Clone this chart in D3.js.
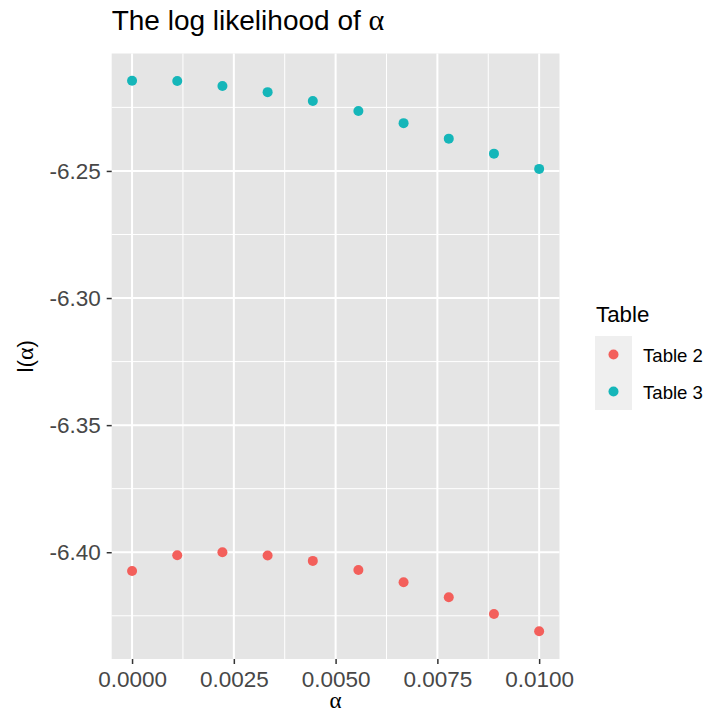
<!DOCTYPE html>
<html>
<head>
<meta charset="utf-8">
<script src="https://cdn.jsdelivr.net/npm/d3@7"></script>
<style>
body { margin: 0; background: #fff; }
text { font-family: "Liberation Sans", Arial, Helvetica, sans-serif; }
.greek { font-family: "Liberation Serif", "DejaVu Serif", serif; }
</style>
</head>
<body>
<div class="container"></div>
<script>
var WIDTH = 709,
	HEIGHT = 714,
	LEFT = 111.7,
	RIGHT = 559.5,
	TOP = 53.5,
	BOTTOM = 659;

// data
var alphas = [0, 0.00111, 0.00222, 0.00333, 0.00444, 0.00556, 0.00667, 0.00778, 0.00889, 0.01];
var table2 = [-6.4074, -6.4012, -6.4000, -6.4013, -6.4034, -6.4070, -6.4118, -6.4177, -6.4243, -6.4311];
var table3 = [-6.2145, -6.2146, -6.2166, -6.2190, -6.2225, -6.2264, -6.2312, -6.2373, -6.2432, -6.2492];
var seriesNames = ['Table 2', 'Table 3'];
var seriesColors = ['#F35F5B', '#15B6B9'];
var xTicks = [0, 0.0025, 0.005, 0.0075, 0.01];
var xMinor = [0.00125, 0.00375, 0.00625, 0.00875];
var yTicks = [-6.40, -6.35, -6.30, -6.25];
var yMinor = [-6.425, -6.375, -6.325, -6.275, -6.225];

function translate(x, y) {
	return 'translate(' + x + ',' + y + ')';
}

var svg = d3.select('.container').append('svg')
	.attr('width', WIDTH)
	.attr('height', HEIGHT);

var xScale = d3.scaleLinear()
	.domain([-0.0005, 0.0105])
	.range([LEFT, RIGHT]);

var yScale = d3.scaleLinear()
	.domain([-6.4420, -6.2038])
	.range([BOTTOM, TOP]);

// panel
svg.append('rect')
	.attr('x', LEFT).attr('y', TOP)
	.attr('width', RIGHT - LEFT).attr('height', BOTTOM - TOP)
	.attr('fill', '#E5E5E5');

var grid = svg.append('g');
grid.selectAll('.xminor').data(xMinor).enter().append('line')
	.attr('x1', xScale).attr('x2', xScale)
	.attr('y1', TOP).attr('y2', BOTTOM)
	.attr('stroke', '#fff').attr('stroke-width', 1);
grid.selectAll('.yminor').data(yMinor).enter().append('line')
	.attr('y1', yScale).attr('y2', yScale)
	.attr('x1', LEFT).attr('x2', RIGHT)
	.attr('stroke', '#fff').attr('stroke-width', 1);
grid.selectAll('.xmajor').data(xTicks).enter().append('line')
	.attr('x1', xScale).attr('x2', xScale)
	.attr('y1', TOP).attr('y2', BOTTOM)
	.attr('stroke', '#fff').attr('stroke-width', 2);
grid.selectAll('.ymajor').data(yTicks).enter().append('line')
	.attr('y1', yScale).attr('y2', yScale)
	.attr('x1', LEFT).attr('x2', RIGHT)
	.attr('stroke', '#fff').attr('stroke-width', 2);

// axes (ascii hyphen for the minus, like the reference)
var xAxis = d3.axisBottom(xScale)
	.tickValues(xTicks)
	.tickFormat(d3.format('.4f'))
	.tickSize(5)
	.tickPadding(6);

var yAxis = d3.axisLeft(yScale)
	.tickValues(yTicks)
	.tickFormat(function(d) { return d3.format('.2f')(d).replace('\u2212', '-'); })
	.tickSize(5)
	.tickPadding(6);

var xAxisGroup = svg.append('g')
	.attr('transform', translate(0, BOTTOM))
	.call(xAxis);
var yAxisGroup = svg.append('g')
	.attr('transform', translate(LEFT, 0))
	.call(yAxis);

[xAxisGroup, yAxisGroup].forEach(function(g) {
	g.select('.domain').remove();
	g.selectAll('.tick line').attr('stroke', '#333333').attr('stroke-width', 1.5);
	g.selectAll('.tick text')
		.attr('fill', '#474747')
		.style('font-size', '22.5px')
		.style('font-family', '"Liberation Sans", Arial, Helvetica, sans-serif');
});
xAxisGroup.selectAll('.tick text').attr('dy', null).attr('y', 27.5);

// points
var points = svg.append('g');
[table2, table3].forEach(function(vals, i) {
	points.selectAll('.s' + i).data(vals).enter().append('circle')
		.attr('cx', function(d, j) { return xScale(alphas[j]); })
		.attr('cy', function(d) { return yScale(d); })
		.attr('r', 5)
		.attr('fill', seriesColors[i]);
});

// title
var title = svg.append('text')
	.attr('x', LEFT).attr('y', 30)
	.style('font-size', '28px')
	.attr('fill', '#000');
title.append('tspan').text('The log likelihood of ');
title.append('tspan').attr('class', 'greek').style('font-size', '30px').text('α');

// axis titles
svg.append('text')
	.attr('class', 'greek')
	.attr('x', (LEFT + RIGHT) / 2).attr('y', 708)
	.attr('text-anchor', 'middle')
	.style('font-size', '23px')
	.text('α');

var yTitle = svg.append('text')
	.attr('transform', translate(33, (TOP + BOTTOM) / 2) + ' rotate(-90)')
	.attr('text-anchor', 'middle')
	.style('font-size', '22.5px');
yTitle.append('tspan').text('l(');
yTitle.append('tspan').attr('class', 'greek').style('font-size', '24px').text('α');
yTitle.append('tspan').text(')');

// legend
var legend = svg.append('g').attr('transform', translate(595, 0));
legend.append('text')
	.attr('x', 1).attr('y', 322)
	.style('font-size', '22.3px')
	.text('Table');
seriesNames.forEach(function(name, i) {
	var y0 = 336 + i * 37;
	legend.append('rect')
		.attr('x', 0).attr('y', y0)
		.attr('width', 37).attr('height', 37)
		.attr('fill', '#EFEFEF');
	legend.append('circle')
		.attr('cx', 18.5).attr('cy', y0 + 18.5)
		.attr('r', 5)
		.attr('fill', seriesColors[i]);
	legend.append('text')
		.attr('x', 48).attr('y', y0 + 25.5)
		.style('font-size', '18.6px')
		.text(name);
});
</script>
</body>
</html>
